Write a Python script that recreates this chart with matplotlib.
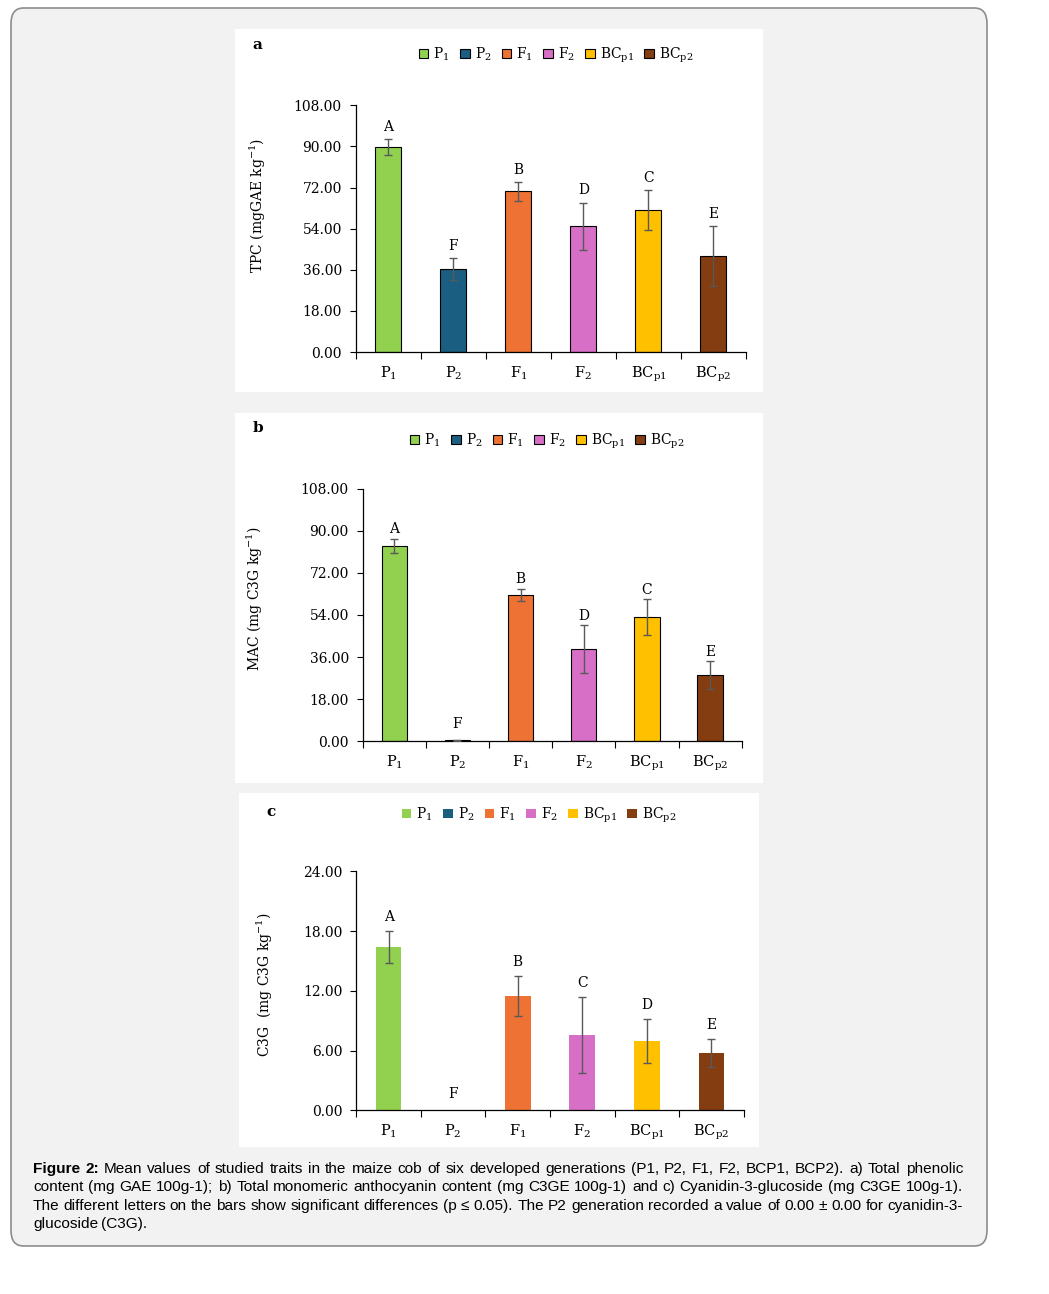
import matplotlib.pyplot as plt
from matplotlib.patches import FancyBboxPatch, Rectangle

plt.rcParams['font.family'] = 'DejaVu Serif'
plt.rcParams['mathtext.fontset'] = 'dejavuserif'

W, H = 1049, 1294

groups = ["P$_1$", "P$_2$", "F$_1$", "F$_2$", "BC$_{\\mathrm{p1}}$", "BC$_{\\mathrm{p2}}$"]
colors = ["#92d050", "#1a5f82", "#ed7233", "#d76fc7", "#ffc000", "#843c11"]

# a) total phenolic content
tpc = [89.6, 36.2, 70.3, 55.0, 62.0, 41.9]
tpc_err = [3.5, 4.8, 4.0, 10.4, 8.8, 13.1]
tpc_letters = ["A", "F", "B", "D", "C", "E"]

# b) monomeric anthocyanin content
mac = [83.4, 0.4, 62.4, 39.3, 53.0, 28.2]
mac_err = [3.0, 0.3, 2.6, 10.3, 7.7, 6.0]
mac_letters = ["A", "F", "B", "D", "C", "E"]

# c) cyanidin-3-glucoside
c3g = [16.4, 0.0, 11.5, 7.56, 6.96, 5.76]
c3g_err = [1.65, 0.0, 2.0, 3.8, 2.2, 1.4]
c3g_letters = ["A", "F", "B", "C", "D", "E"]

fig = plt.figure(figsize=(W / 100, H / 100), dpi=100)


def fx(px):
    return px / W


def fy(py):
    return 1 - py / H


# grey rounded frame
frame = FancyBboxPatch((fx(11), fy(1246)), fx(976), 1238 / H,
                       boxstyle="round,pad=0,rounding_size=0.012",
                       transform=fig.transFigure, facecolor="#f2f2f2",
                       edgecolor="#8c8c8c", linewidth=1.2, zorder=-3)
fig.patches.append(frame)

# white panel backgrounds
for x0, y0, x1, y1 in [(235, 29, 763, 392), (235, 413, 763, 783), (239, 793, 759, 1147)]:
    fig.patches.append(Rectangle((fx(x0), fy(y1)), fx(x1 - x0), (y1 - y0) / H,
                                 transform=fig.transFigure, facecolor="white",
                                 edgecolor="none", zorder=-2))


def panel(box, vals, errs, letters, ymax, step, ylabel, ylab_xy, tag, tag_xy,
          leg_xy, edge, let_off, zero_off):
    left, top, right, bottom = box
    ax = fig.add_axes([fx(left), fy(bottom), fx(right - left), (bottom - top) / H])
    ax.set_facecolor("none")
    x = list(range(len(vals)))
    ec = "black" if edge else "none"
    ax.bar(x, vals, width=0.4, color=colors, edgecolor=ec, linewidth=0.8, zorder=2)
    ex = [i for i in x if errs[i] > 0]
    ax.errorbar(ex, [vals[i] for i in ex], yerr=[errs[i] for i in ex], fmt="none",
                ecolor="#595959", elinewidth=1, capsize=3, capthick=1, zorder=3)
    for i, (v, e, l) in enumerate(zip(vals, errs, letters)):
        off = zero_off if v < 1 else let_off
        ax.annotate(l, (i, v + e), xytext=(0, off), textcoords="offset points",
                    ha="center", va="bottom", fontsize=10)
    n = int(round(ymax / step)) + 1
    ax.set_xlim(-0.5, 5.5)
    ax.set_ylim(0, ymax)
    ax.set_yticks([step * k for k in range(n)])
    ax.set_yticklabels([f"{step * k:.2f}" for k in range(n)])
    ax.set_xticks([k - 0.5 for k in range(7)])
    ax.set_xticklabels([])
    ax.set_xticks(x, minor=True)
    ax.set_xticklabels(groups, minor=True)
    ax.tick_params(axis="x", which="major", direction="out", length=5, width=0.8)
    ax.tick_params(axis="x", which="minor", length=0, pad=9, labelsize=10.5)
    ax.tick_params(axis="y", direction="out", length=4, width=0.8, pad=6, labelsize=10)
    for s in ["top", "right"]:
        ax.spines[s].set_visible(False)
    for s in ["left", "bottom"]:
        ax.spines[s].set_linewidth(0.9)
    fig.text(fx(ylab_xy[0]), fy(ylab_xy[1]), ylabel, rotation=90, ha="center",
             va="center", fontsize=10)
    fig.text(fx(tag_xy[0]), fy(tag_xy[1]), tag, fontweight="bold", ha="center",
             va="center", fontsize=11)
    handles = [Rectangle((0, 0), 1, 1, facecolor=c, edgecolor=ec, linewidth=0.8)
               for c in colors]
    fig.legend(handles, groups, loc="center", bbox_to_anchor=(fx(leg_xy[0]), fy(leg_xy[1])),
               ncol=6, frameon=False, fontsize=10, handlelength=0.7, handleheight=0.7,
               handletextpad=0.35, columnspacing=0.75, borderaxespad=0, borderpad=0)
    return ax


panel((355.7, 105.3, 746, 352), tpc, tpc_err, tpc_letters, 108, 18,
      "TPC (mgGAE kg$^{\\mathrm{-1}}$)", (258, 205), "a", (257, 45), (556, 55), True, 4, 4)
panel((362.7, 488.7, 741.7, 741.3), mac, mac_err, mac_letters, 108, 18,
      "MAC (mg C3G kg$^{\\mathrm{-1}}$)", (255, 599), "b", (258, 428), (547, 441), True, 2, 6)
panel((356.3, 871.3, 743.7, 1110.3), c3g, c3g_err, c3g_letters, 24, 6,
      "C3G  (mg C3G kg$^{\\mathrm{-1}}$)", (265, 985), "c", (271, 812), (539, 815), False, 5, 7)

# caption, justified between x=33 and x=963
cap_font = "Liberation Sans"
cap_size = 11.1
lines = [
    "Figure 2: Mean values of studied traits in the maize cob of six developed generations (P1, P2, F1, F2, BCP1, BCP2). a) Total phenolic",
    "content (mg GAE 100g-1); b) Total monomeric anthocyanin content (mg C3GE 100g-1) and c) Cyanidin-3-glucoside (mg C3GE 100g-1).",
    "The different letters on the bars show significant differences (p \u2264 0.05). The P2 generation recorded a value of 0.00 \u00b1 0.00 for cyanidin-3-",
    "glucoside (C3G).",
]
ys = [1169, 1187, 1206, 1224]
r = fig.canvas.get_renderer()
for li, (line, y) in enumerate(zip(lines, ys)):
    words = line.split(" ")
    arts = []
    for wi, w in enumerate(words):
        bold = li == 0 and wi < 2
        t = fig.text(0, fy(y), w, family=cap_font, fontsize=cap_size,
                     fontweight="bold" if bold else "normal", ha="left", va="center")
        arts.append(t)
    widths = [a.get_window_extent(renderer=r).width for a in arts]
    if li < 3:
        gap = (930 - sum(widths)) / (len(words) - 1)
    else:
        gap = 3.1
    xp = 33
    for a, wd in zip(arts, widths):
        a.set_x(fx(xp))
        xp += wd + gap

fig.savefig("out.png", dpi=100)
